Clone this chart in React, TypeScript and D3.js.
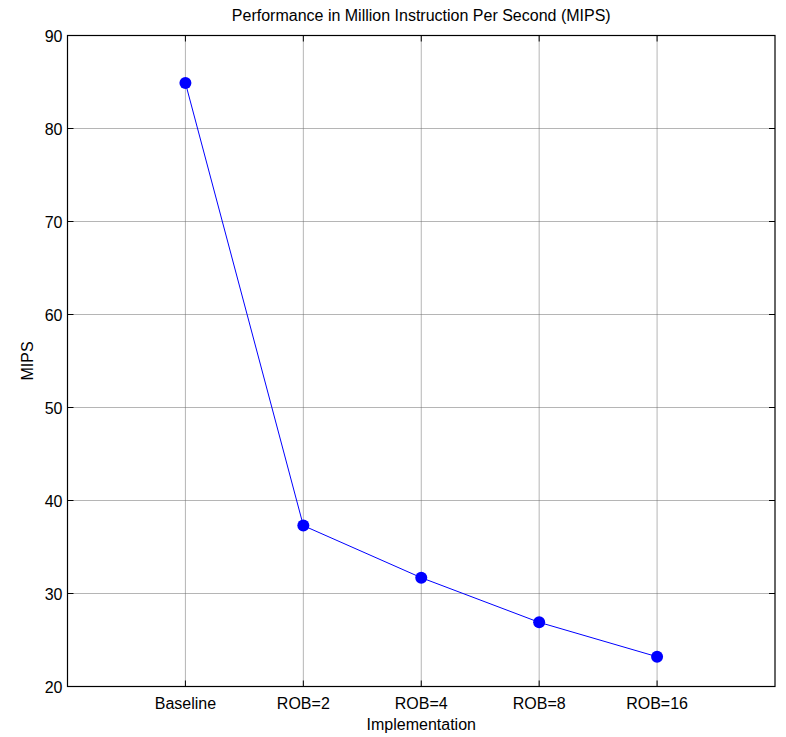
import React from "react";
import * as d3 from "d3";

const categories = ["Baseline", "ROB=2", "ROB=4", "ROB=8", "ROB=16"];
const mips = [84.9, 37.3, 31.7, 26.9, 23.2];
const yTicks = [20, 30, 40, 50, 60, 70, 80, 90];

export default function App() {
  const W = 786, H = 737;
  const left = 67.5, right = 775, top = 35.5, bottom = 686.5;
  const x = d3.scaleLinear().domain([0, categories.length + 1]).range([left, right]);
  const y = d3.scaleLinear().domain([20, 90]).range([bottom, top]);
  const line = d3.line<number>().x((_, i) => x(i + 1)).y((d) => y(d));
  const font = "'Liberation Sans', Arial, sans-serif";
  const fs = 16;
  const tl = 6;
  return (
    <svg width={W} height={H} style={{ position: "absolute", left: 0, top: 0, background: "#fff" }}>
      <rect x={0} y={0} width={W} height={H} fill="#fff" />
      {categories.map((c, i) => (
        <line key={"gx" + i} x1={x(i + 1)} x2={x(i + 1)} y1={top} y2={bottom} stroke="#6a6a6a" strokeWidth={1} strokeDasharray="1 1" />
      ))}
      {yTicks.slice(1, -1).map((t) => (
        <line key={"gy" + t} x1={left} x2={right} y1={y(t)} y2={y(t)} stroke="#6a6a6a" strokeWidth={1} strokeDasharray="1 1" />
      ))}
      {categories.map((c, i) => (
        <g key={"tx" + i}>
          <line x1={x(i + 1)} x2={x(i + 1)} y1={bottom} y2={bottom - tl} stroke="#000" />
          <line x1={x(i + 1)} x2={x(i + 1)} y1={top} y2={top + tl} stroke="#000" />
          <text x={x(i + 1)} y={709} textAnchor="middle" fontFamily={font} fontSize={fs} fill="#000">{c}</text>
        </g>
      ))}
      {yTicks.map((t) => (
        <g key={"ty" + t}>
          <line x1={left} x2={left + tl} y1={y(t)} y2={y(t)} stroke="#000" />
          <line x1={right} x2={right - tl} y1={y(t)} y2={y(t)} stroke="#000" />
          <text x={left - 5} y={y(t) + 6} textAnchor="end" fontFamily={font} fontSize={fs} fill="#000">{t}</text>
        </g>
      ))}
      <rect x={left} y={top} width={right - left} height={bottom - top} fill="none" stroke="#000" strokeWidth={1.2} />
      <path d={line(mips) || ""} fill="none" stroke="#0000ff" strokeWidth={1} />
      {mips.map((v, i) => (
        <circle key={"p" + i} cx={x(i + 1)} cy={y(v)} r={6} fill="#0000ff" />
      ))}
      <text x={(left + right) / 2} y={21} textAnchor="middle" fontFamily={font} fontSize={fs} fill="#000">Performance in Million Instruction Per Second (MIPS)</text>
      <text x={(left + right) / 2} y={730} textAnchor="middle" fontFamily={font} fontSize={fs} fill="#000">Implementation</text>
      <text transform={`translate(33, ${(top + bottom) / 2}) rotate(-90)`} textAnchor="middle" fontFamily={font} fontSize={fs} fill="#000">MIPS</text>
    </svg>
  );
}
